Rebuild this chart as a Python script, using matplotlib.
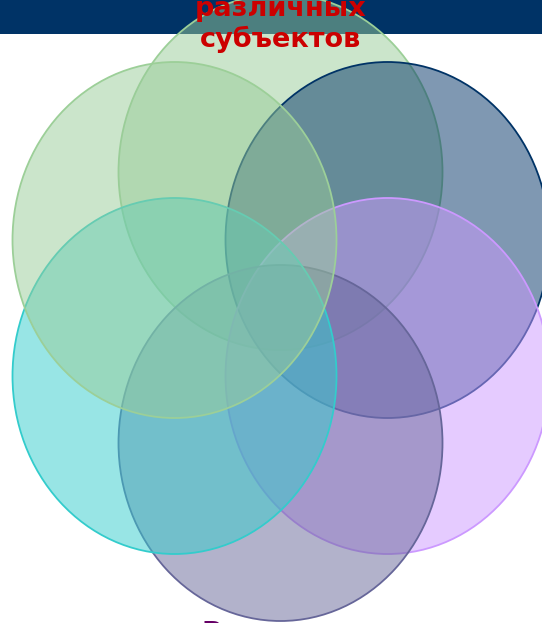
import matplotlib
matplotlib.use("Agg")
import matplotlib.pyplot as plt
from matplotlib.patches import Ellipse, Rectangle

# Diagram content
circle_names = ["top", "upper_right", "lower_right", "bottom", "lower_left", "upper_left"]
circle_fill = ["#99CC99", "#003366", "#CC99FF", "#666699", "#33CCCC", "#99CC99"]
circle_edge = ["#9CCF98", "#003366", "#CC99FF", "#666699", "#33CCCC", "#9CCF98"]
circle_dx = [0, 107, 107, 0, -106, -106]
circle_dy = [-136, -68, 68, 135, 68, -68]
title_lines = ["различных", "субъектов"]
bottom_text = "В"

W, H = 542, 623
fig = plt.figure(figsize=(W / 100, H / 100), dpi=100)
ax = fig.add_axes([0, 0, 1, 1])
ax.set_xlim(0, W)
ax.set_ylim(H, 0)
ax.axis("off")

# header bar
ax.add_patch(Rectangle((0, 0), W, 33.5, facecolor="#003366", edgecolor="none", zorder=0))

cx0, cy0 = 280.5, 308
for i, name in enumerate(circle_names):
    e = Ellipse((cx0 + circle_dx[i], cy0 + circle_dy[i]), 324, 356,
                facecolor=circle_fill[i], alpha=0.5, edgecolor="none", zorder=1 + i)
    ax.add_patch(e)
    e2 = Ellipse((cx0 + circle_dx[i], cy0 + circle_dy[i]), 324, 356,
                 facecolor="none", edgecolor=circle_edge[i], lw=1.3, zorder=1 + i)
    ax.add_patch(e2)

ax.text(280.5, 16, title_lines[0], ha="center", va="baseline", color="#CC0000",
        fontsize=19.5, fontweight="bold", family="DejaVu Sans", zorder=20)
ax.text(280.5, 47, title_lines[1], ha="center", va="baseline", color="#CC0000",
        fontsize=19.5, fontweight="bold", family="DejaVu Sans", zorder=20)
ax.text(202, 641, bottom_text, ha="left", va="baseline", color="#660066",
        fontsize=19.5, fontweight="bold", family="DejaVu Sans", zorder=20)

fig.savefig("out.png", dpi=100)
